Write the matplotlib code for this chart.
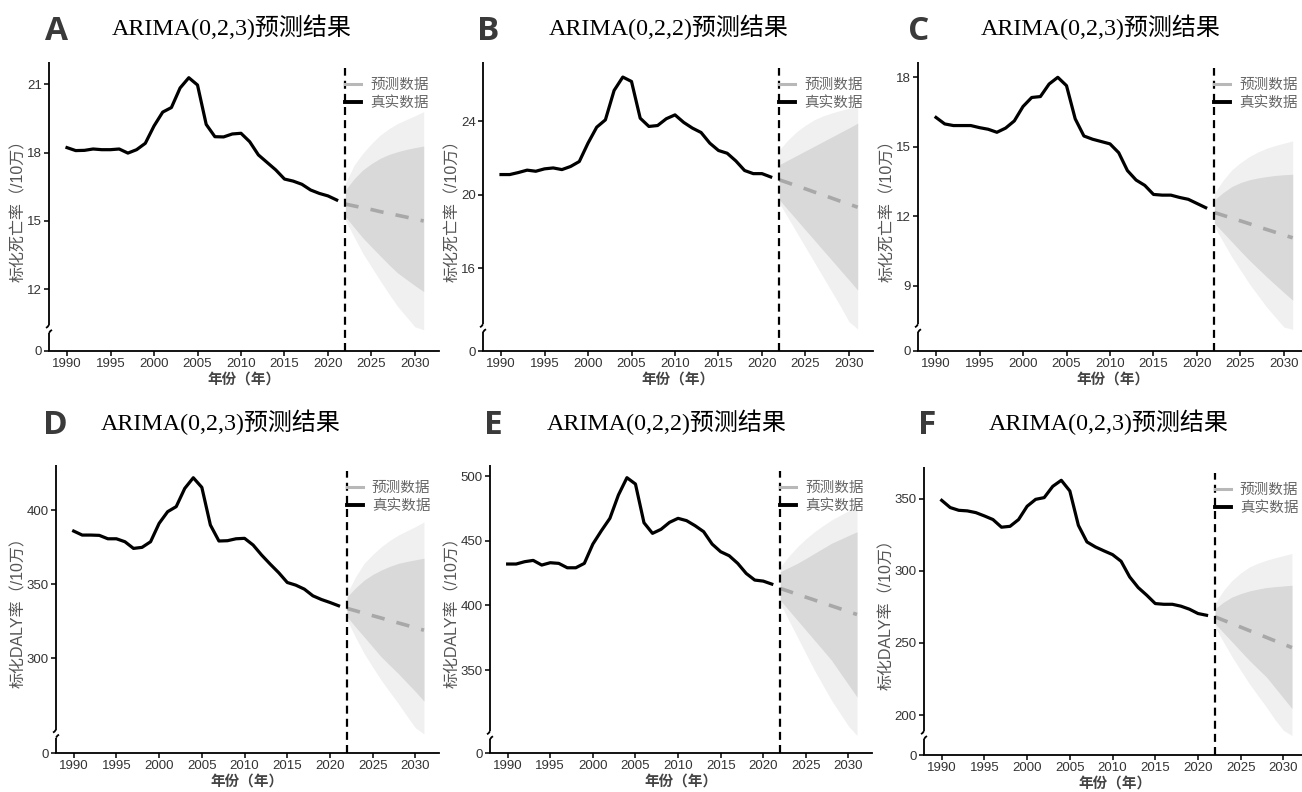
import numpy as np
import matplotlib
matplotlib.use('Agg')
import matplotlib.pyplot as plt
from matplotlib.lines import Line2D

plt.rcParams['font.family'] = ['Liberation Sans', 'Noto Sans CJK SC']
plt.rcParams['axes.unicode_minus'] = False

# ---------------- data ----------------
years = list(range(1990, 2022))
fc_years = list(range(2022, 2032))

real_A = [18.22, 18.09, 18.10, 18.16, 18.13, 18.13, 18.16, 17.98, 18.13, 18.41,
          19.17, 19.78, 19.98, 20.84, 21.29, 20.97, 19.24, 18.70, 18.69, 18.82,
          18.85, 18.48, 17.90, 17.57, 17.24, 16.84, 16.75, 16.61, 16.36, 16.21,
          16.10, 15.92]
fc_A = [15.74, 15.66, 15.58, 15.50, 15.41, 15.33, 15.25, 15.17, 15.08, 15.00]
dhi_A = [16.36, 16.85, 17.24, 17.52, 17.75, 17.92, 18.04, 18.14, 18.22, 18.29]
dlo_A = [15.19, 14.72, 14.26, 13.86, 13.47, 13.08, 12.72, 12.44, 12.16, 11.90]
lhi_A = [16.65, 17.45, 17.97, 18.40, 18.77, 19.05, 19.28, 19.45, 19.62, 19.80]
llo_A = [15.04, 14.30, 13.58, 12.98, 12.38, 11.80, 11.25, 10.80, 10.35, 9.90]

real_B = [21.11, 21.11, 21.22, 21.35, 21.29, 21.42, 21.47, 21.38, 21.55, 21.82,
          22.82, 23.69, 24.09, 25.69, 26.42, 26.18, 24.18, 23.73, 23.78, 24.15,
          24.36, 23.95, 23.64, 23.40, 22.82, 22.42, 22.27, 21.85, 21.33, 21.16,
          21.16, 20.98]
fc_B = [20.82, 20.66, 20.49, 20.33, 20.16, 20.00, 19.83, 19.66, 19.50, 19.33]
dhi_B = [21.65, 21.90, 22.15, 22.40, 22.65, 22.90, 23.15, 23.40, 23.65, 23.91]
dlo_B = [19.73, 19.18, 18.64, 18.09, 17.55, 17.00, 16.46, 15.91, 15.37, 14.82]
lhi_B = [22.46, 23.00, 23.45, 23.80, 24.09, 24.30, 24.46, 24.60, 24.72, 24.82]
llo_B = [19.55, 18.75, 17.95, 17.15, 16.35, 15.55, 14.75, 13.95, 13.10, 12.30]

real_C = [16.26, 15.98, 15.91, 15.91, 15.91, 15.82, 15.75, 15.62, 15.80, 16.11,
          16.73, 17.12, 17.16, 17.70, 17.99, 17.63, 16.20, 15.46, 15.32, 15.22,
          15.12, 14.74, 13.97, 13.56, 13.33, 12.94, 12.91, 12.91, 12.81, 12.73,
          12.55, 12.37]
fc_C = [12.16, 12.04, 11.92, 11.80, 11.68, 11.55, 11.43, 11.31, 11.19, 11.07]
dhi_C = [12.70, 13.02, 13.28, 13.45, 13.57, 13.65, 13.71, 13.76, 13.79, 13.81]
dlo_C = [11.70, 11.30, 10.90, 10.50, 10.11, 9.75, 9.39, 9.05, 8.71, 8.38]
lhi_C = [12.99, 13.55, 14.00, 14.31, 14.57, 14.77, 14.93, 15.05, 15.15, 15.25]
llo_C = [11.55, 10.90, 10.25, 9.67, 9.10, 8.59, 8.09, 7.65, 7.22, 6.85]

real_D = [385.8, 383.1, 383.1, 382.9, 380.6, 380.6, 378.6, 374.1, 374.8, 378.6,
          391.0, 398.9, 402.3, 414.6, 421.8, 415.3, 389.9, 379.1, 379.3, 380.6,
          380.9, 376.4, 369.6, 363.5, 357.7, 351.1, 349.3, 346.6, 342.1, 339.6,
          337.6, 335.4]
fc_D = [333.6, 332.0, 330.3, 328.7, 327.1, 325.4, 323.8, 322.2, 320.5, 318.9]
dhi_D = [341.4, 347.5, 352.7, 356.5, 359.5, 362.0, 364.0, 365.3, 366.4, 367.5]
dlo_D = [327.9, 321.0, 314.4, 307.6, 300.9, 295.2, 289.6, 283.5, 277.5, 271.0]
lhi_D = [343.7, 355.0, 364.0, 370.0, 375.2, 379.5, 383.1, 386.0, 388.8, 392.0]
llo_D = [325.7, 314.0, 303.2, 294.0, 285.1, 277.2, 269.4, 261.0, 253.0, 245.0]

real_E = [432.0, 432.0, 433.8, 434.8, 431.2, 433.0, 432.5, 429.1, 429.1, 432.5,
          447.4, 457.7, 467.3, 485.3, 498.7, 493.8, 463.9, 455.7, 458.8, 464.2,
          467.3, 465.5, 461.6, 457.0, 447.4, 441.5, 438.4, 432.5, 424.7, 419.6,
          418.8, 416.5]
fc_E = [413.1, 410.9, 408.6, 406.4, 404.2, 401.9, 399.7, 397.5, 395.2, 393.0]
dhi_E = [426.0, 429.3, 432.5, 436.3, 440.2, 444.1, 448.0, 451.0, 454.0, 456.9]
dlo_E = [404.1, 396.3, 388.6, 380.9, 373.2, 365.5, 357.7, 348.2, 338.8, 329.3]
lhi_E = [429.9, 438.0, 445.3, 451.5, 456.9, 461.6, 466.0, 469.6, 473.0, 476.3]
llo_E = [401.5, 388.5, 375.7, 362.8, 350.0, 338.4, 326.8, 316.8, 306.8, 297.0]

real_F = [348.8, 343.8, 341.9, 341.5, 340.3, 338.0, 335.5, 330.2, 330.8, 335.5,
          344.7, 349.5, 350.7, 358.5, 362.7, 355.3, 331.5, 320.0, 316.5, 313.8,
          311.2, 306.6, 295.8, 288.4, 283.1, 277.3, 276.8, 276.8, 275.5, 273.4,
          270.4, 269.2]
fc_F = [268.1, 265.7, 263.4, 261.0, 258.6, 256.3, 253.9, 251.5, 249.2, 246.8]
dhi_F = [273.8, 278.3, 281.9, 284.2, 286.0, 287.3, 288.4, 289.0, 289.5, 290.0]
dlo_F = [263.4, 257.0, 250.7, 244.3, 238.0, 232.2, 226.5, 219.2, 211.9, 204.6]
lhi_F = [277.3, 286.5, 293.4, 298.5, 302.6, 305.2, 307.3, 309.0, 310.5, 312.0]
llo_F = [261.1, 250.5, 240.3, 231.0, 221.9, 213.7, 205.7, 197.0, 189.5, 182.0]

letters = ['A', 'B', 'C', 'D', 'E', 'F']
titles = ['ARIMA(0,2,3)预测结果', 'ARIMA(0,2,2)预测结果', 'ARIMA(0,2,3)预测结果',
          'ARIMA(0,2,3)预测结果', 'ARIMA(0,2,2)预测结果', 'ARIMA(0,2,3)预测结果']
ylabels = ['标化死亡率（/10万）'] * 3 + ['标化DALY率（/10万）'] * 3
yticks = [[12, 15, 18, 21], [16, 20, 24], [9, 12, 15, 18],
          [300, 350, 400], [350, 400, 450, 500], [200, 250, 300, 350]]
series = [(real_A, fc_A, dhi_A, dlo_A, lhi_A, llo_A),
          (real_B, fc_B, dhi_B, dlo_B, lhi_B, llo_B),
          (real_C, fc_C, dhi_C, dlo_C, lhi_C, llo_C),
          (real_D, fc_D, dhi_D, dlo_D, lhi_D, llo_D),
          (real_E, fc_E, dhi_E, dlo_E, lhi_E, llo_E),
          (real_F, fc_F, dhi_F, dlo_F, lhi_F, llo_F)]

# ---------------- layout (pixels) ----------------
W_PX, H_PX = 1302, 792
# left, top, width, height of each axes
boxes = [(49, 62, 390, 289), (483, 62, 390, 289), (918, 62, 390, 289),
         (56, 465, 383, 288), (490, 465, 382, 288), (924, 467, 383, 288)]
# y top limit, start of main scale, size of the squeezed part near 0
ytop = [21.98, 27.24, 18.65, 430.4, 508.5, 371.9]
ylo = [10.26, 12.74, 7.17, 249.1, 299.7, 186.2]
ygap = [0.97, 1.24, 0.98, 13.1, 13.7, 13.8]
letter_pos = [(56, 32), (488, 32), (919, 32), (55, 426), (493, 426), (927, 426)]
title_pos = [(232, 27), (669, 27), (1101, 27), (221, 422), (667, 422), (1109, 422)]

DARK = '#d9d9d9'
LIGHT = '#f0f0f0'
FC_COLOR = '#a8a8a8'


def broken_scale(lo, g):
    def fwd(y):
        y = np.asarray(y, dtype=float)
        return np.where(y >= lo, y, lo - g + y * g / lo)

    def inv(t):
        t = np.asarray(t, dtype=float)
        return np.where(t >= lo, t, (t - lo + g) * lo / g)
    return fwd, inv


fig = plt.figure(figsize=(W_PX / 100, H_PX / 100), dpi=100)

for i in range(6):
    real, fc, dhi, dlo, lhi, llo = series[i]
    L, T, W, H = boxes[i]
    ax = fig.add_axes([L / W_PX, 1 - (T + H) / H_PX, W / W_PX, H / H_PX])
    fwd, inv = broken_scale(ylo[i], ygap[i])
    ax.set_yscale('function', functions=(fwd, inv))

    ax.fill_between(fc_years, llo, lhi, color=LIGHT, lw=0, zorder=1)
    ax.fill_between(fc_years, dlo, dhi, color=DARK, lw=0, zorder=1)
    ax.plot(fc_years, fc, color=FC_COLOR, lw=2.6, dashes=(3.7, 3.4), zorder=3)
    ax.plot(years, real, color='black', lw=2.3, solid_joinstyle='round', zorder=3)
    ax.axvline(2022, ymin=0, ymax=0.98, color='black', lw=1.6, dashes=(3.6, 2.3), zorder=4)

    ax.set_xlim(1987.93, 2032.76)
    ax.set_ylim(0, ytop[i])
    ax.set_xticks(range(1990, 2031, 5))
    ax.set_yticks([0] + yticks[i])
    ax.minorticks_off()
    ax.tick_params(direction='out', length=3.6, width=1.1, labelsize=9.5,
                   labelcolor='#333333', pad=1.5)

    for s in ['top', 'right', 'left']:
        ax.spines[s].set_visible(False)
    ax.spines['bottom'].set_linewidth(1.3)

    # left spine with the break
    fl = ygap[i] / (ytop[i] - ylo[i] + ygap[i])
    h = 4.0 / H
    px, py = 1.0 / W, 1.0 / H
    kw = dict(transform=ax.transAxes, color='black', lw=1.3, clip_on=False,
              solid_capstyle='butt', zorder=5)
    ax.plot([0, 0], [fl + h, 1], **kw)
    ax.plot([0, 0], [0, fl - h], **kw)
    ax.plot([0, -1.5 * px, -3 * px], [fl + h, fl + h - 2 * py, fl + h - 3 * py], **kw)
    ax.plot([0, 1.5 * px, 3 * px], [fl - h, fl - h + 2 * py, fl - h + 3 * py], **kw)

    ax.set_xlabel('年份（年）', fontsize=10.5, fontweight='bold', color='#444444',
                  labelpad=2)
    ax.set_ylabel(ylabels[i], fontsize=11.5, color='#555555', labelpad=0.5)

    handles = [Line2D([], [], color='#b8b8b8', lw=2.2),
               Line2D([], [], color='black', lw=2.8)]
    leg = ax.legend(handles, ['预测数据', '真实数据'], loc='upper left',
                    bbox_to_anchor=(2022, 0.945), bbox_transform=ax.get_xaxis_transform(),
                    frameon=False, fontsize=10.5, handlelength=1.1,
                    handletextpad=0.6, labelspacing=0.3, borderaxespad=0,
                    borderpad=0)
    for t in leg.get_texts():
        t.set_color('#666666')

    fig.text(letter_pos[i][0] / W_PX, 1 - letter_pos[i][1] / H_PX, letters[i],
             fontsize=24, fontweight='bold', color='#3a3a3a', family='Open Sans',
             ha='center', va='center')
    fig.text(title_pos[i][0] / W_PX, 1 - title_pos[i][1] / H_PX, titles[i],
             fontsize=17.3, color='black', family=['Liberation Serif', 'Noto Sans CJK SC'],
             ha='center', va='center')

fig.savefig('out.png', dpi=100, facecolor='white')
